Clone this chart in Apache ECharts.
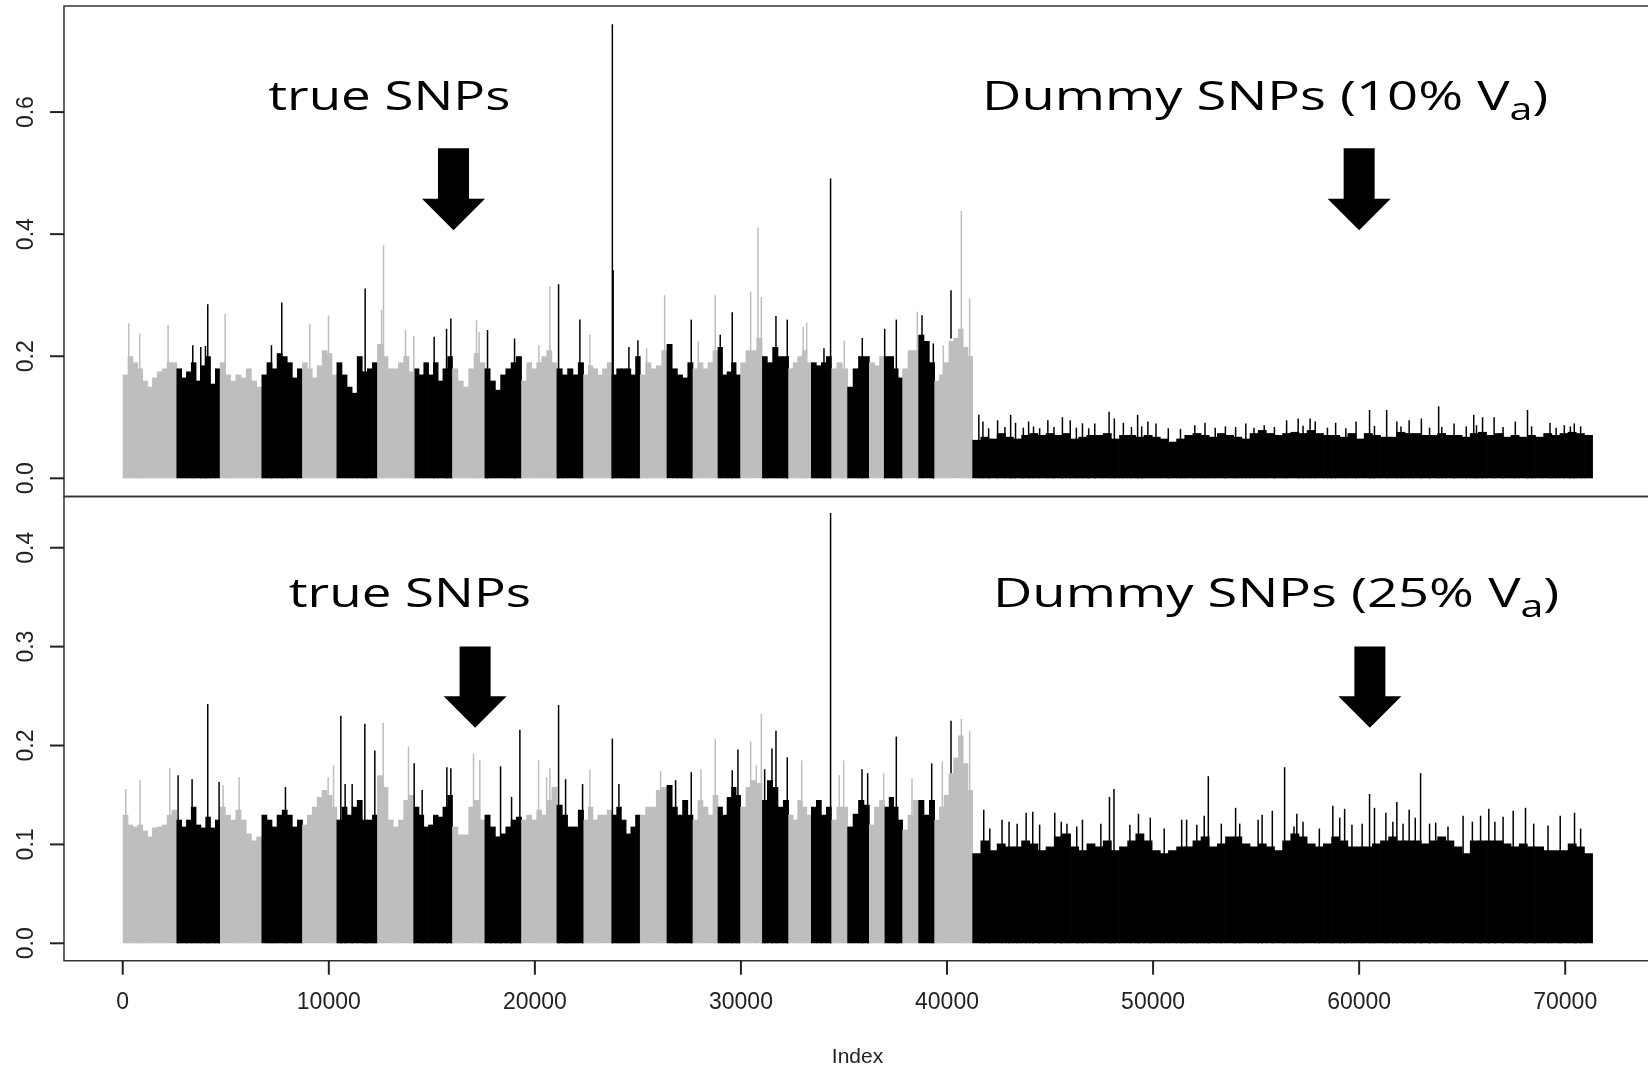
<!DOCTYPE html>
<html><head><meta charset="utf-8">
<script src="https://cdn.jsdelivr.net/npm/echarts@6/dist/echarts.min.js"></script>
<style>html,body{margin:0;padding:0;background:#fff}#c{width:1648px;height:1068px}</style>
</head><body><div id="c"></div>
<script>
// ---------------- DATA ----------------
// last SNP index of each of the 29 chromosomes (true SNPs); dummy SNPs follow
const chromEnds = [2607,4709,6733,8704,10374,12345,14126,15985,17558,19335,21053,22345,23723,25097,26393,27655,28869,29966,31005,32296,33398,34370,35160,36214,36956,37830,38607,39383,41228];
const totalSNPs = 71311;
const xTicks = [0,10000,20000,30000,40000,50000,60000,70000];
const yTicksTop = [0,0.2,0.4,0.6];
const yTicksBottom = [0,0.1,0.2,0.3,0.4];

// upper panel (10% Va): typical column height per bin, one array per chromosome
const topTrue = [
 [0.17,0.2,0.19,0.18,0.16,0.15,0.165,0.175,0.18,0.19,0.19],
 [0.18,0.165,0.175,0.19,0.16,0.185,0.2,0.155,0.18],
 [0.19,0.17,0.16,0.17,0.165,0.18,0.16,0.15],
 [0.17,0.19,0.18,0.205,0.2,0.19,0.165,0.18],
 [0.19,0.18,0.165,0.185,0.21,0.205,0.17],
 [0.19,0.17,0.15,0.14,0.2,0.175,0.18,0.19],
 [0.22,0.2,0.18,0.18,0.19,0.2,0.175],
 [0.18,0.17,0.19,0.17,0.19,0.16,0.18,0.2],
 [0.18,0.16,0.15,0.18,0.205,0.19],
 [0.18,0.16,0.145,0.17,0.18,0.19,0.2],
 [0.16,0.19,0.18,0.19,0.2,0.21,0.19],
 [0.18,0.17,0.18,0.17,0.19],
 [0.17,0.185,0.18,0.17,0.18,0.19],
 [0.17,0.18,0.18,0.18,0.17,0.2],
 [0.17,0.19,0.18,0.185,0.21],
 [0.22,0.18,0.17,0.165,0.19],
 [0.18,0.19,0.18,0.19,0.21],
 [0.215,0.17,0.175,0.19,0.17],
 [0.19,0.21,0.21,0.23],
 [0.2,0.19,0.215,0.2,0.2],
 [0.18,0.19,0.2,0.21,0.19],
 [0.19,0.185,0.19,0.2],
 [0.18,0.19,0.18],
 [0.15,0.18,0.2,0.2],
 [0.19,0.185,0.2],
 [0.2,0.2,0.18,0.165],
 [0.18,0.21,0.21],
 [0.235,0.225,0.19],
 [0.16,0.17,0.19,0.225,0.23,0.245,0.215,0.2]
];
const topDummy = [0.063,0.068,0.065,0.074,0.068,0.065,0.071,0.074,0.071,0.074,
 0.071,0.074,0.065,0.068,0.071,0.071,0.074,0.065,0.071,0.071,
 0.068,0.071,0.068,0.065,0.06,0.065,0.071,0.074,0.071,0.068,
 0.074,0.071,0.068,0.065,0.074,0.079,0.074,0.071,0.074,0.076,
 0.074,0.079,0.074,0.071,0.071,0.068,0.074,0.065,0.074,0.071,
 0.068,0.068,0.076,0.074,0.074,0.071,0.071,0.074,0.071,0.071,
 0.068,0.074,0.076,0.071,0.074,0.068,0.071,0.068,0.071,0.068,
 0.074,0.071,0.074,0.076,0.074,0.071];
// single tall SNPs [index, value, chromosome?, visible-from value?]
const topSpikes = [[291,0.254],[825,0.237],[2201,0.251],[3398,0.218],[3786,0.215],[4013,0.217],[4126,0.285],[4968,0.269],
 [7217,0.218],[7718,0.288],[9078,0.253],[9985,0.267],[11764,0.311],[12560,0.276],[12655,0.382],[13721,0.243],[14126,0.233],
 [15112,0.232],[15713,0.245],[15922,0.262],[17168,0.259],[17296,0.24],[17702,0.243],[19014,0.229],[20194,0.218],[20728,0.315],
 [21150,0.318],[22184,0.26],[22670,0.235],[23760,0.744],[23800,0.341],[24563,0.215],[25000,0.226],[25422,0.213],[26296,0.30],
 [27589,0.26],[27927,0.224],[28754,0.30],[28995,0.235],[29578,0.272],[30470,0.306],[30825,0.411],[30990,0.297],[31699,0.266],
 [32248,0.26],[33025,0.248],[33190,0.255],[34029,0.213],[34350,0.491],[35015,0.226],[35888,0.23],[36975,0.245],[37540,0.26],
 [38558,0.273],[38786,0.267],[39335,0.221],[39820,0.218],[40194,0.308,28,0.229],[40695,0.438],[41100,0.295],
 [41545,0.104],[41743,0.093],[42019,0.082],[42455,0.095],[42811,0.084],[43088,0.104],[43325,0.091],[43704,0.083],[43960,0.093],
 [44199,0.085],[44495,0.082],[44893,0.095],[45189,0.084],[45600,0.1],[45981,0.095],[46277,0.083],[46573,0.09],[46874,0.082],
 [47170,0.09],[47865,0.109],[48120,0.098],[48558,0.091],[48951,0.084],[49250,0.104],[49447,0.085],[49748,0.093],[50141,0.09],
 [50738,0.082],[51330,0.081],[52024,0.087],[52519,0.091],[53015,0.083],[53510,0.085],[54005,0.084],[54500,0.09],[54898,0.083],
 [55393,0.087],[55888,0.084],[56480,0.095],[57040,0.098],[57277,0.086],[57620,0.098],[57869,0.093],[58461,0.083],[58859,0.091],
 [59354,0.082],[59850,0.093],[60505,0.112],[60743,0.086],[61335,0.112],[61830,0.093],[62029,0.085],[62427,0.095],[63020,0.098],
 [63417,0.083],[63858,0.118],[64010,0.084],[64607,0.09],[65199,0.085],[65560,0.104],[65694,0.087],[65990,0.1],[66550,0.1],
 [66985,0.084],[67578,0.093],[68170,0.112],[68369,0.085],[69262,0.091],[69558,0.083],[69956,0.087],[70252,0.085],[70440,0.09],[70748,0.085]];

// lower panel (25% Va)
const botTrue = [
 [0.13,0.12,0.118,0.12,0.114,0.108,0.117,0.118,0.12,0.13,0.135],
 [0.125,0.118,0.125,0.138,0.12,0.117,0.128,0.117,0.125],
 [0.138,0.13,0.125,0.135,0.125,0.111,0.104,0.108],
 [0.13,0.125,0.118,0.13,0.135,0.13,0.118,0.125],
 [0.12,0.13,0.138,0.148,0.155,0.15,0.138],
 [0.125,0.138,0.13,0.138,0.145,0.125,0.125,0.13],
 [0.17,0.158,0.125,0.118,0.125,0.145,0.15],
 [0.138,0.13,0.118,0.12,0.13,0.128,0.138,0.15],
 [0.118,0.11,0.11,0.138,0.145,0.125],
 [0.13,0.118,0.108,0.111,0.118,0.125,0.128],
 [0.125,0.13,0.125,0.135,0.13,0.145,0.158],
 [0.14,0.13,0.118,0.118,0.135],
 [0.125,0.138,0.125,0.13,0.13,0.135],
 [0.13,0.138,0.125,0.111,0.118,0.13],
 [0.13,0.138,0.138,0.155,0.158],
 [0.16,0.138,0.13,0.145,0.13],
 [0.125,0.145,0.138,0.13,0.15],
 [0.138,0.13,0.148,0.158,0.15],
 [0.138,0.158,0.165,0.162],
 [0.145,0.165,0.158,0.138,0.145],
 [0.13,0.125,0.145,0.138,0.13],
 [0.138,0.145,0.13,0.138],
 [0.125,0.138,0.138],
 [0.118,0.131,0.145,0.14],
 [0.12,0.138,0.145],
 [0.138,0.148,0.138,0.125],
 [0.115,0.13,0.145],
 [0.145,0.13,0.145],
 [0.125,0.138,0.15,0.172,0.188,0.21,0.182,0.155]
];
const botDummy = [0.091,0.104,0.094,0.101,0.098,0.098,0.104,0.101,0.094,0.098,
 0.108,0.111,0.098,0.094,0.101,0.098,0.104,0.094,0.098,0.104,
 0.111,0.104,0.094,0.091,0.094,0.098,0.098,0.104,0.108,0.098,
 0.101,0.108,0.108,0.101,0.098,0.101,0.098,0.094,0.104,0.111,
 0.108,0.101,0.098,0.101,0.108,0.104,0.098,0.098,0.098,0.101,
 0.104,0.108,0.104,0.104,0.104,0.101,0.104,0.108,0.104,0.098,
 0.091,0.104,0.104,0.104,0.104,0.101,0.098,0.101,0.098,0.098,
 0.094,0.094,0.094,0.101,0.098,0.091];
const botSpikes = [[146,0.156],[842,0.165],[2282,0.177],[2686,0.17],[3366,0.166],[4126,0.242],[4676,0.163],[4870,0.16],[5647,0.168],
 [7896,0.158],[9968,0.168],[10228,0.18],[10583,0.23],[10793,0.161],[11133,0.161],[11748,0.222],[12233,0.195],[12638,0.223],
 [13867,0.199],[14143,0.182],[14531,0.155],[15728,0.178],[15922,0.177],[17023,0.192],[17330,0.185],[18335,0.179],[18869,0.148],
 [19272,0.216],[20180,0.185],[20568,0.168],[20728,0.177],[21150,0.241],[21490,0.166],[22315,0.161],[22670,0.176],[23760,0.207],
 [24078,0.161],[26101,0.174],[26830,0.165],[27589,0.173],[28058,0.176],[28754,0.207],[29578,0.175],[29854,0.196],[30470,0.204],
 [30743,0.18],[30990,0.232],[31150,0.176],[31505,0.197],[31700,0.215],[32248,0.188],[32947,0.185],[34350,0.435],[34772,0.17],
 [34985,0.185],[35874,0.176],[36150,0.172],[36927,0.172],[37540,0.209],[38301,0.167],[39257,0.182],[39772,0.184],
 [40194,0.225,28,0.172],[40695,0.227],[41100,0.215],
 [41782,0.135],[42077,0.116],[42670,0.125],[43010,0.123],[43403,0.121],[43840,0.132],[44160,0.133],[44495,0.12],[45228,0.132],
 [45544,0.123],[45820,0.121],[46296,0.118],[46573,0.125],[47466,0.121],[47884,0.148],[48102,0.156],[48874,0.12],[49291,0.131],
 [49864,0.127],[50539,0.116],[51388,0.125],[51626,0.125],[52121,0.12],[52481,0.129],[52680,0.169],[53311,0.121],[54005,0.137],
 [54204,0.121],[55097,0.125],[55291,0.13],[55786,0.134],[56383,0.178],[56840,0.118],[56976,0.131],[57277,0.123],[58068,0.116],
 [58723,0.139],[59058,0.127],[59296,0.136],[59650,0.12],[60146,0.121],[60505,0.151],[60744,0.137],[61297,0.132],[61636,0.123],
 [61830,0.143],[62131,0.121],[62427,0.135],[62723,0.127],[62981,0.172],[63417,0.121],[63714,0.122],[64311,0.118],[65044,0.129],
 [65495,0.123],[65893,0.129],[66292,0.136],[66587,0.123],[66985,0.128],[67476,0.134],[68073,0.137],[68471,0.121],[69165,0.119],
 [69757,0.129],[70452,0.132],[70748,0.116]];

// annotation anchors (data coordinates)
const notesTop = [[12935, 'true SNPs', ''], [55440, 'Dummy SNPs (10% V', 'a']];
const notesBottom = [[13932, 'true SNPs', ''], [55973, 'Dummy SNPs (25% V', 'a']];
const arrowsTop = [16050, 60000];
const arrowsBottom = [17100, 60520];

// ---------------- CHART ----------------
// plot box (R's usr region: data range + 4%)
const BOX_X = [-2851, 74163];
const BOX_Y_TOP = [-0.0298, 0.7738], BOX_Y_BOT = [-0.0176, 0.4518];
// axis ranges also cover the 14px outward tick area
const X_MIN = -3530, X_MAX = 74163;
const Y_TOP = [-0.0298, 0.7738], Y_BOT = [-0.03175, 0.4518];
const GRAY = '#BEBEBE', BLACK = '#000000', AXIS = '#222', TICK = 14, LW = 2;
function chromOf(idx){ for (let c=0;c<chromEnds.length;c++) if (idx<=chromEnds[c]) return c+1; return 0; }
function colorOf(ch){ return ch===0 ? BLACK : (ch%2===1 ? GRAY : BLACK); }
function buildBins(trueVals, dummyVals){
  const out=[]; let start=1;
  trueVals.forEach((arr,c)=>{
    const end=chromEnds[c], n=arr.length, span=end-start+1;
    arr.forEach((v,k)=>out.push([start-0.5+span*k/n, start-0.5+span*(k+1)/n, v, c+1]));
    start=end+1;
  });
  const span=totalSNPs-start+1, n=dummyVals.length;
  dummyVals.forEach((v,k)=>out.push([start-0.5+span*k/n, start-0.5+span*(k+1)/n, v, 0]));
  return out;
}
function buildSpikes(list){ return list.map(s=>[s[0], s[1], s.length>2 ? s[2] : chromOf(s[0]), s.length>3 ? s[3] : 0]); }

function renderBin(params, api){
  const a=api.coord([api.value(0), api.value(2)]), b=api.coord([api.value(1), 0]);
  return {type:'rect', shape:{x:a[0], y:a[1], width:b[0]-a[0]+0.7, height:b[1]-a[1]}, style:{fill:colorOf(api.value(3))}};
}
function renderSpike(params, api){
  const a=api.coord([api.value(0), api.value(1)]), b=api.coord([api.value(0), api.value(3)]);
  return {type:'rect', shape:{x:a[0]-0.75, y:a[1], width:1.5, height:b[1]-a[1]}, style:{fill:colorOf(api.value(2))}};
}
function makeArrow(yTop, yTip){
  return function(params, api){
    const t=api.coord([api.value(0), yTop]), p=api.coord([api.value(0), yTip]);
    const cx=t[0], sw=15.5, hw=31.5, hl=31.5, hb=p[1]-hl;
    return {type:'polygon', shape:{points:[[cx-sw,t[1]],[cx+sw,t[1]],[cx+sw,hb],[cx+hw,hb],[cx,p[1]],[cx-hw,hb],[cx-sw,hb]]}, style:{fill:'#000'}};
  };
}
function makeNote(notes, yVal){
  return function(params, api){
    const n=notes[params.dataIndex];
    const p=api.coord([n[0], yVal]);
    const txt = n[2] ? '{m|'+n[1]+'}{s|'+n[2]+'}{m|)}' : '{m|'+n[1]+'}';
    return {type:'text', x:p[0], y:p[1], scaleX:(n[2] ? 1.325 : 1.29), scaleY:1,
      style:{text:txt, align:'center', verticalAlign:'middle',
        rich:{m:{fontFamily:'Open Sans', fontSize:41, lineHeight:58, fill:'#000', verticalAlign:'middle'},
              s:{fontFamily:'Open Sans', fontSize:31, lineHeight:31, fill:'#000', verticalAlign:'bottom'}}}};
  };
}
// plot box with outward R-style tick marks, placed through the axis scales
function makeFrame(yRange, yTicks, xTickVals){
  return function(params, api){
    const a=api.coord([BOX_X[0], yRange[1]]), b=api.coord([BOX_X[1], yRange[0]]);
    const kids=[{type:'rect', z2:10, shape:{x:a[0], y:a[1], width:b[0]-a[0], height:b[1]-a[1]}, style:{fill:null, stroke:'#333', lineWidth:1.5}}];
    yTicks.forEach(v=>{
      const p=api.coord([BOX_X[0], v]);
      kids.push({type:'line', z2:10, shape:{x1:p[0]-TICK, y1:p[1], x2:p[0], y2:p[1]}, style:{stroke:AXIS, lineWidth:LW, fill:null}});
    });
    xTickVals.forEach(v=>{
      const p=api.coord([v, yRange[0]]);
      kids.push({type:'line', z2:10, shape:{x1:p[0], y1:p[1], x2:p[0], y2:p[1]+TICK}, style:{stroke:AXIS, lineWidth:LW, fill:null}});
    });
    return {type:'group', children:kids};
  };
}

const axisFont = {fontFamily:'Liberation Sans, Arial, sans-serif', fontSize:23, color:'#222'};
const fmt1 = v => Number(v).toFixed(1);
const noLine = {show:false, onZero:false};

const chart = echarts.init(document.getElementById('c'), null, {renderer:'canvas'});
chart.setOption({
  animation:false,
  backgroundColor:'#fff',
  grid:[
    {left:50, top:6, width:1601, height:490.5, show:false, containLabel:false, outerBoundsMode:'none'},
    {left:50, top:496.5, width:1601, height:478.2, show:false, containLabel:false, outerBoundsMode:'none'}
  ],
  xAxis:[
    {gridIndex:0, type:'value', min:X_MIN, max:X_MAX, axisLine:noLine, axisTick:{show:false}, axisLabel:{show:false}, splitLine:{show:false}},
    {gridIndex:1, type:'value', position:'bottom', min:X_MIN, max:X_MAX, axisLine:noLine, splitLine:{show:false}, axisTick:{show:false},
     axisLabel:Object.assign({show:true, margin:16, customValues:xTicks, formatter:v=>String(v)}, axisFont),
     name:'Index', nameLocation:'middle', nameGap:72,
     nameTextStyle:{fontFamily:'Liberation Sans, Arial, sans-serif', fontSize:21, color:'#222', padding:[0,0,0,14]}}
  ],
  yAxis:[
    {gridIndex:0, type:'value', position:'left', min:Y_TOP[0], max:Y_TOP[1], axisLine:noLine, splitLine:{show:false}, axisTick:{show:false},
     axisLabel:Object.assign({show:true, rotate:90, margin:12, customValues:yTicksTop, formatter:fmt1}, axisFont)},
    {gridIndex:1, type:'value', position:'left', min:Y_BOT[0], max:Y_BOT[1], axisLine:noLine, splitLine:{show:false}, axisTick:{show:false},
     axisLabel:Object.assign({show:true, rotate:90, margin:12, customValues:yTicksBottom, formatter:fmt1}, axisFont)}
  ],
  series:[
    {type:'custom', xAxisIndex:0, yAxisIndex:0, silent:true, renderItem:renderBin, encode:{x:[0,1], y:2}, data:buildBins(topTrue, topDummy)},
    {type:'custom', xAxisIndex:0, yAxisIndex:0, silent:true, renderItem:renderSpike, encode:{x:0, y:1}, data:buildSpikes(topSpikes)},
    {type:'custom', xAxisIndex:0, yAxisIndex:0, silent:true, renderItem:makeArrow(0.5406, 0.4064), encode:{x:0}, data:arrowsTop.map(x=>[x])},
    {type:'custom', xAxisIndex:0, yAxisIndex:0, silent:true, renderItem:makeNote(notesTop, 0.6232), encode:{x:0}, data:notesTop.map(n=>[n[0]])},
    {type:'custom', xAxisIndex:0, yAxisIndex:0, silent:true, clip:false, z:10, renderItem:makeFrame(BOX_Y_TOP, yTicksTop, []), data:[[0]]},
    {type:'custom', xAxisIndex:1, yAxisIndex:1, silent:true, renderItem:renderBin, encode:{x:[0,1], y:2}, data:buildBins(botTrue, botDummy)},
    {type:'custom', xAxisIndex:1, yAxisIndex:1, silent:true, renderItem:renderSpike, encode:{x:0, y:1}, data:buildSpikes(botSpikes)},
    {type:'custom', xAxisIndex:1, yAxisIndex:1, silent:true, renderItem:makeArrow(0.300, 0.218), encode:{x:0}, data:arrowsBottom.map(x=>[x])},
    {type:'custom', xAxisIndex:1, yAxisIndex:1, silent:true, renderItem:makeNote(notesBottom, 0.3522), encode:{x:0}, data:notesBottom.map(n=>[n[0]])},
    {type:'custom', xAxisIndex:1, yAxisIndex:1, silent:true, clip:false, z:10, renderItem:makeFrame(BOX_Y_BOT, yTicksBottom, xTicks), data:[[0]]}
  ]
});
</script></body></html>
